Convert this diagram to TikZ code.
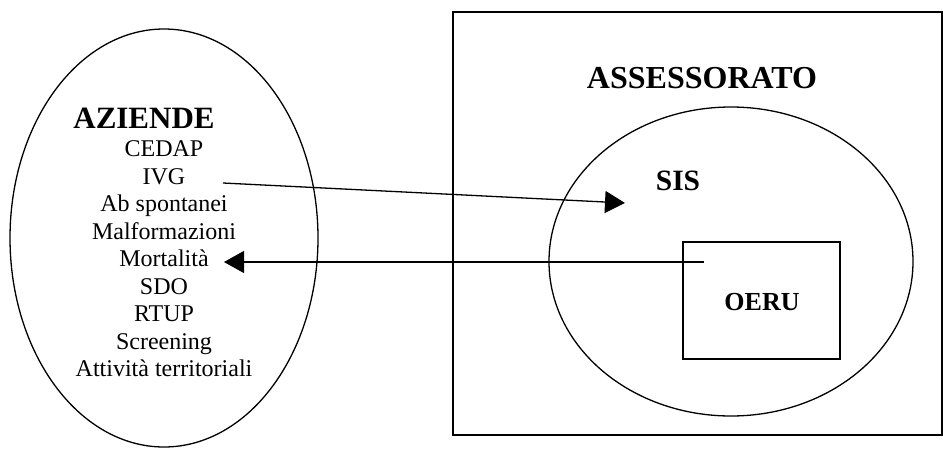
\documentclass[tikz,border=0pt]{standalone}
\usepackage{fontspec}
\setmainfont{Liberation Serif}
\usetikzlibrary{arrows.meta,shapes.geometric}

\begin{document}
\begin{tikzpicture}[x=1pt,y=-1pt,line width=1.3pt,
    voce/.style={anchor=base,inner sep=0pt,font=\fontsize{24}{27}\selectfont},
    titolo/.style={anchor=base,inner sep=0pt,font=\bfseries\fontsize{#1}{#1}\selectfont},
    freccia/.style={-{Triangle[length=20pt,width=22pt]}}]
  \useasboundingbox (0,0) rectangle (943,448);
  % contenitori
  \node[draw,ellipse,inner sep=0pt,minimum width=308pt,minimum height=418pt] (aziende) at (164,238) {};
  \node[draw,rectangle,inner sep=0pt,minimum width=489pt,minimum height=423pt] (regione) at (697.5,223.5) {};
  \node[draw,ellipse,inner sep=0pt,minimum width=364pt,minimum height=309pt] (sis) at (731,261.5) {};
  \node[draw,rectangle,inner sep=0pt,minimum width=157pt,minimum height=117pt] (oeru) at (761.5,300.5) {};
  % titoli
  \node[titolo=31] (t-aziende) at (144,128) {AZIENDE};
  \node[titolo=32] (t-assessorato) at (702,88) {ASSESSORATO};
  \node[titolo=29.5] (t-sis) at (678,190) {SIS};
  \node[titolo=26] (t-oeru) at (762,310) {OERU};
  % flussi delle aziende
  \node[voce] (cedap) at (164,156.5) {CEDAP};
  \node[voce] (ivg) at (164,184) {IVG};
  \node[voce] (abort) at (164,211.5) {Ab spontanei};
  \node[voce] (malf) at (164,239) {Malformazioni};
  \node[voce] (mort) at (164,266.5) {Mortalità};
  \node[voce] (sdo) at (164,294) {SDO};
  \node[voce] (rtup) at (164,321.5) {RTUP};
  \node[voce] (screen) at (164,349) {Screening};
  \node[voce] (terr) at (164,376.5) {Attività territoriali};
  % frecce
  \coordinate (ivg-out) at (223,183);
  \coordinate (sis-in) at (625,203);
  \coordinate (oeru-out) at (704,262);
  \coordinate (mort-in) at (224,262);
  \draw[freccia] (ivg-out) -- (sis-in);
  \draw[freccia] (oeru-out) -- (mort-in);
\end{tikzpicture}
\end{document}
